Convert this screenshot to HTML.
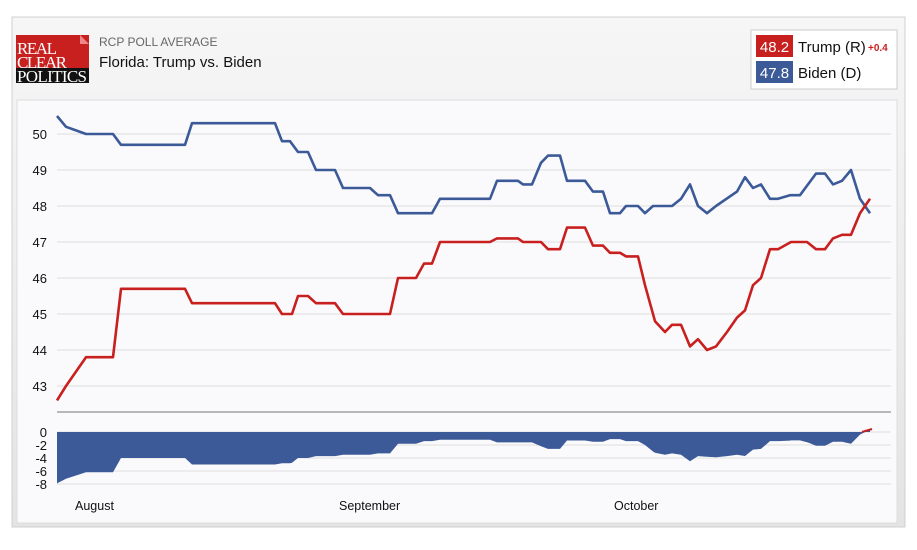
<!DOCTYPE html>
<html><head><meta charset="utf-8"><style>
body{margin:0;background:#fff;width:917px;height:545px;overflow:hidden;font-family:"Liberation Sans",sans-serif}
</style></head><body>
<svg id="s" width="917" height="545" xmlns="http://www.w3.org/2000/svg" font-family="Liberation Sans, sans-serif">
<defs><linearGradient id="hg" x1="0" y1="0" x2="0" y2="1"><stop offset="0" stop-color="#f6f6f6"/><stop offset="1" stop-color="#e4e4e4"/></linearGradient></defs>
<rect x="12" y="17" width="893" height="510" fill="url(#hg)" stroke="#d0d0d0"/>
<rect x="17" y="100" width="880" height="423" fill="#fafafc" stroke="#ddd"/>
<rect x="16" y="35" width="73" height="48" fill="#c8201f"/>
<path d="M80 35 L89 44 L80 44Z" fill="#e88"/>
<rect x="16" y="68" width="73" height="15" fill="#111"/>
<text x="17" y="54" font-family="Liberation Serif,serif" font-size="17" fill="#fff" textLength="40">REAL</text>
<text x="17" y="68" font-family="Liberation Serif,serif" font-size="17" fill="#fff" textLength="50">CLEAR</text>
<text x="17" y="82" font-family="Liberation Serif,serif" font-size="17" fill="#fff" textLength="70">POLITICS</text>
<text x="99" y="46" font-size="12" fill="#666">RCP POLL AVERAGE</text>
<text x="99" y="67" font-size="15" fill="#111">Florida: Trump vs. Biden</text>
<rect x="751" y="30" width="146" height="59" fill="#fff" stroke="#ccc"/>
<rect x="756" y="35" width="37" height="22" fill="#c8201f"/>
<text x="774.5" y="52" font-size="15" fill="#fff" text-anchor="middle">48.2</text>
<text x="798" y="52" font-size="15" fill="#111">Trump (R)</text>
<text x="868" y="51" font-size="10" fill="#c8201f" font-weight="bold">+0.4</text>
<rect x="756" y="61" width="37" height="22" fill="#3c5a98"/>
<text x="774.5" y="78" font-size="15" fill="#fff" text-anchor="middle">47.8</text>
<text x="798" y="78" font-size="15" fill="#111">Biden (D)</text>
<g id="grid"></g>
<line x1="57" y1="412" x2="891" y2="412" stroke="#777"/>
<g font-size="12.5" fill="#111">
<text x="75" y="510">August</text><text x="339" y="510">September</text><text x="614" y="510">October</text>
</g>
</svg>
<script>
var s=document.getElementById('s'),g=document.getElementById('grid'),NS='http://www.w3.org/2000/svg';
function el(t,a,p){var e=document.createElementNS(NS,t);for(var k in a)e.setAttribute(k,a[k]);(p||s).appendChild(e);return e;}
function Y(v){return 134+(50-v)*36}
for(var v=43;v<=50;v++){el('line',{x1:57,x2:891,y1:Y(v),y2:Y(v),stroke:'#ddd'},g);var t=el('text',{x:47,y:Y(v)+5,'font-size':13,fill:'#111','text-anchor':'end'},g);t.textContent=v;}
function Z(v){return 432-v*6.5}
for(var v=0;v>=-8;v-=2){el('line',{x1:57,x2:891,y1:Z(v),y2:Z(v),stroke:'#ddd'},g);var t=el('text',{x:47,y:Z(v)+5,'font-size':13,fill:'#111','text-anchor':'end'},g);t.textContent=v;}
var T=[[57,42.6],[66,43.0],[86,43.8],[113,43.8],[121,45.7],[185,45.7],[192,45.3],[275,45.3],[282,45.0],[292,45.0],[298,45.5],[308,45.5],[316,45.3],[335,45.3],[343,45.0],[390,45.0],[398,46.0],[416,46.0],[424,46.4],[432,46.4],[440,47.0],[490,47.0],[497,47.1],[518,47.1],[523,47.0],[541,47.0],[548,46.8],[560,46.8],[567,47.4],[585,47.4],[593,46.9],[603,46.9],[610,46.7],[620,46.7],[626,46.6],[638,46.6],[645,45.8],[655,44.8],[665,44.5],[672,44.7],[681,44.7],[690,44.1],[698,44.3],[707,44.0],[716,44.1],[727,44.5],[737,44.9],[745,45.1],[753,45.8],[761,46.0],[770,46.8],[778,46.8],[791,47.0],[807,47.0],[816,46.8],[825,46.8],[833,47.1],[842,47.2],[851,47.2],[860,47.8],[870,48.2]];
var B=[[57,50.5],[66,50.2],[86,50.0],[113,50.0],[121,49.7],[185,49.7],[192,50.3],[275,50.3],[282,49.8],[290,49.8],[298,49.5],[308,49.5],[316,49.0],[335,49.0],[343,48.5],[370,48.5],[378,48.3],[390,48.3],[398,47.8],[432,47.8],[440,48.2],[490,48.2],[497,48.7],[518,48.7],[523,48.6],[532,48.6],[541,49.2],[548,49.4],[560,49.4],[567,48.7],[585,48.7],[593,48.4],[603,48.4],[610,47.8],[620,47.8],[626,48.0],[638,48.0],[645,47.8],[653,48.0],[672,48.0],[681,48.2],[690,48.6],[698,48.0],[707,47.8],[716,48.0],[737,48.4],[745,48.8],[753,48.5],[761,48.6],[770,48.2],[778,48.2],[790,48.3],[800,48.3],[808,48.6],[816,48.9],[825,48.9],[833,48.6],[842,48.7],[851,49.0],[860,48.2],[870,47.8]];
function interp(A,x){for(var i=1;i<A.length;i++){if(x<=A[i][0]){var a=A[i-1],b=A[i];return a[1]+(b[1]-a[1])*(x-a[0])/(b[0]-a[0]);}}return A[A.length-1][1];}
var xs={};T.concat(B).forEach(function(p){xs[p[0]]=1});xs=Object.keys(xs).map(Number).sort(function(a,b){return a-b});
var d='M57 432';xs.forEach(function(x){var sp=interp(T,x)-interp(B,x);d+=' L'+x+' '+Z(sp).toFixed(1);});d+=' L870 432Z';
el('path',{d:d,fill:'#3c5a98'});
el('line',{x1:862,y1:432,x2:872,y2:429,stroke:'#c8201f','stroke-width':2});
function line(A,c){el('polyline',{points:A.map(function(p){return p[0]+','+Y(p[1]).toFixed(1)}).join(' '),fill:'none',stroke:c,'stroke-width':2.6,'stroke-linejoin':'round'});}
line(B,'#3c5a98');line(T,'#c8201f');
</script>
</body></html>
